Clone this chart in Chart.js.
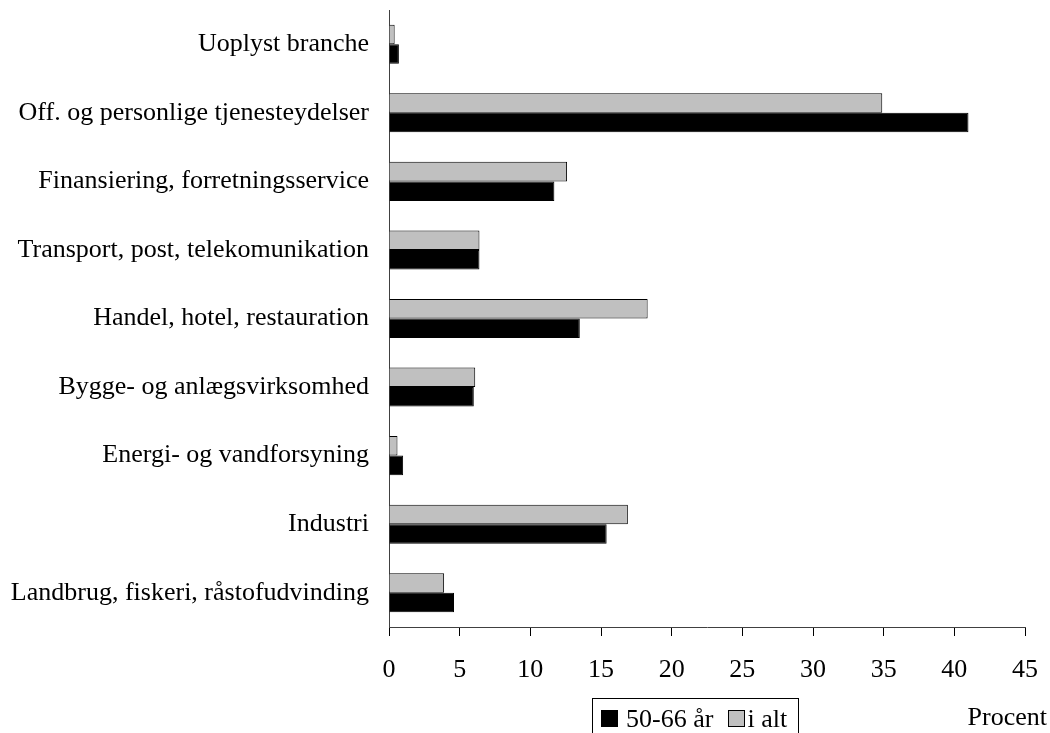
<!DOCTYPE html>
<html>
<head>
<meta charset="utf-8">
<script src="https://cdn.jsdelivr.net/npm/chart.js@4.4.1/dist/chart.umd.min.js"></script>
<style>
  html, body { margin: 0; padding: 0; background: #fff; }
  #wrap { width: 1050px; height: 733px; }
</style>
</head>
<body>
<div id="wrap"><canvas id="c" width="1050" height="733"></canvas></div>
<script>
// Branches, listed top to bottom
const categories = [
  'Uoplyst branche',
  'Off. og personlige tjenesteydelser',
  'Finansiering, forretningsservice',
  'Transport, post, telekomunikation',
  'Handel, hotel, restauration',
  'Bygge- og anlægsvirksomhed',
  'Energi- og vandforsyning',
  'Industri',
  'Landbrug, fiskeri, råstofudvinding'
];
// Share of employed (percent)
const age5066 = [0.7, 41.0, 11.7, 6.4, 13.5, 6.0, 1.0, 15.4, 4.6];
const iAlt    = [0.4, 34.9, 12.6, 6.4, 18.3, 6.1, 0.6, 16.9, 3.9];
const xTicks  = [0, 5, 10, 15, 20, 25, 30, 35, 40, 45];
const seriesNames = ['50-66 år', 'i alt'];
const seriesColors = ['#000000', '#c0c0c0'];
const unitLabel = 'Procent';

const FONT = '"Liberation Serif", "Times New Roman", serif';

// Boxed legend and unit label under the axis
const boxLegend = {
  id: 'boxLegend',
  afterDraw(chart) {
    const ctx = chart.ctx;
    const ca = chart.chartArea;
    const boxW = 206;
    const left = Math.round((ca.left + ca.right) / 2 - 12 - boxW / 2) + 0.5;
    const top = 698.5;
    const base = 727;
    const sw = 17;
    ctx.save();
    ctx.font = '26px ' + FONT;
    ctx.textBaseline = 'alphabetic';
    ctx.textAlign = 'left';
    ctx.strokeStyle = '#000';
    ctx.lineWidth = 1;
    ctx.strokeRect(left, top, boxW, 60);
    // swatch x, text x (relative to box left)
    const items = [[8.5, 33.5], [135.5, 155]];
    seriesNames.forEach((n, i) => {
      const sx = Math.round(left + items[i][0]);
      ctx.fillStyle = seriesColors[i];
      ctx.fillRect(sx, base - 17, sw, sw);
      ctx.strokeStyle = '#000';
      ctx.strokeRect(sx + 0.5, base - 16.5, sw - 1, sw - 1);
      ctx.fillStyle = '#000';
      ctx.fillText(n, left + items[i][1], base);
    });
    ctx.textAlign = 'right';
    ctx.fillText(unitLabel, chart.width - 3, 725);
    ctx.restore();
  }
};

new Chart(document.getElementById('c'), {
  type: 'bar',
  data: {
    labels: categories,
    datasets: [
      {
        label: seriesNames[1],
        data: iAlt,
        backgroundColor: seriesColors[1],
        borderColor: '#000',
        borderWidth: 1,
        categoryPercentage: 0.57,
        barPercentage: 1.0
      },
      {
        label: seriesNames[0],
        data: age5066,
        backgroundColor: seriesColors[0],
        borderColor: '#000',
        borderWidth: 1,
        categoryPercentage: 0.57,
        barPercentage: 1.0
      }
    ]
  },
  options: {
    indexAxis: 'y',
    responsive: false,
    animation: false,
    events: [],
    layout: { padding: { left: 10, right: 25, top: 10, bottom: 0 } },
    plugins: {
      legend: { display: false },
      tooltip: { enabled: false }
    },
    scales: {
      x: {
        type: 'linear',
        min: 0,
        max: 45,
        afterBuildTicks(scale) { scale.ticks = xTicks.map(v => ({ value: v })); },
        afterFit(scale) {
          scale.height = 106;
          scale.paddingLeft = 0;
          scale.paddingRight = 0;
        },
        ticks: {
          font: { family: FONT, size: 26 },
          color: '#000',
          padding: 19,
          maxRotation: 0
        },
        grid: {
          drawOnChartArea: false,
          drawTicks: true,
          tickLength: 9,
          color: '#000'
        },
        border: { display: true, color: '#404040', width: 1 }
      },
      y: {
        afterFit(scale) {
          scale.width = 379;
          scale.paddingTop = 0;
          scale.paddingBottom = 0;
        },
        ticks: {
          font: { family: FONT, size: 26 },
          color: '#000',
          padding: 20
        },
        grid: { display: false, drawTicks: false },
        border: { display: true, color: '#404040', width: 1 }
      }
    }
  },
  plugins: [boxLegend]
});
</script>
</body>
</html>
